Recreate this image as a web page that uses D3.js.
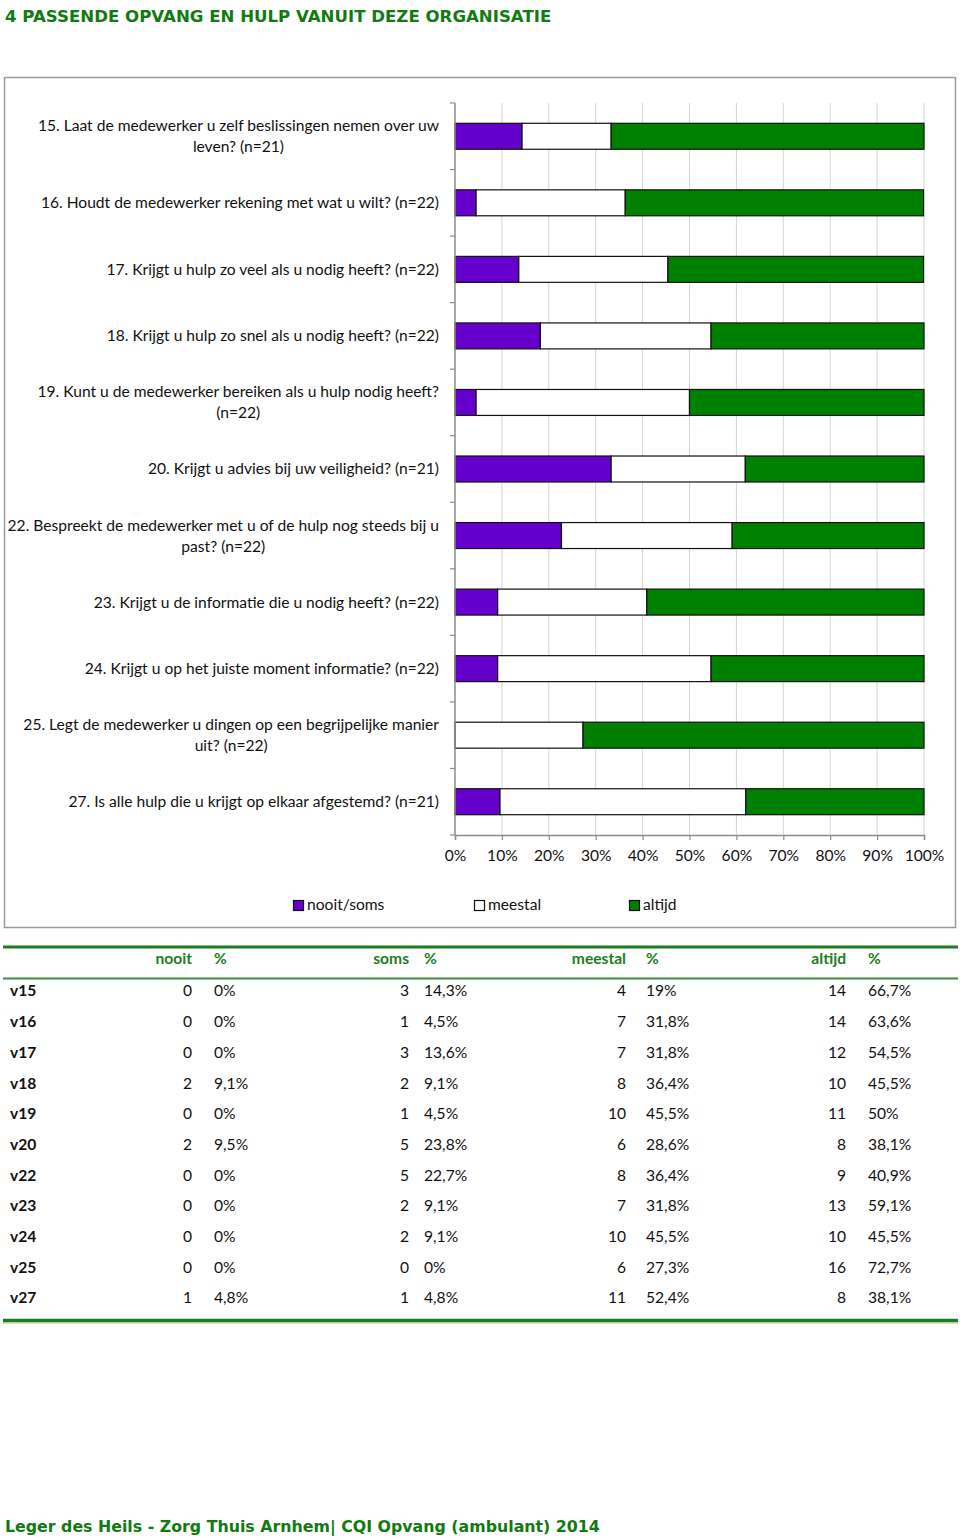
<!DOCTYPE html>
<html>
<head>
<meta charset="utf-8">
<script src="https://cdn.jsdelivr.net/npm/d3@7"></script>
<style>
html,body{margin:0;padding:0;background:#fff;}
svg{display:block;}
</style>
</head>
<body>
<svg id="c" width="960" height="1540"></svg>
<script>
// ---- data ----
const questions = [
  ["15. Laat de medewerker u zelf beslissingen nemen over uw", "leven? (n=21)"],
  ["16. Houdt de medewerker rekening met wat u wilt? (n=22)"],
  ["17. Krijgt u hulp zo veel als u nodig heeft? (n=22)"],
  ["18. Krijgt u hulp zo snel als u nodig heeft? (n=22)"],
  ["19. Kunt u de medewerker bereiken als u hulp nodig heeft?", "(n=22)"],
  ["20. Krijgt u advies bij uw veiligheid? (n=21)"],
  ["22. Bespreekt de medewerker met u of de hulp nog steeds bij u", "past? (n=22)"],
  ["23. Krijgt u de informatie die u nodig heeft? (n=22)"],
  ["24. Krijgt u op het juiste moment informatie? (n=22)"],
  ["25. Legt de medewerker u dingen op een begrijpelijke manier", "uit? (n=22)"],
  ["27. Is alle hulp die u krijgt op elkaar afgestemd? (n=21)"]
];
const rowCodes = ["v15","v16","v17","v18","v19","v20","v22","v23","v24","v25","v27"];
const nooitN   = [0,0,0,2,0,2,0,0,0,0,1];
const nooitPct = [0,0,0,9.1,0,9.5,0,0,0,0,4.8];
const somsN    = [3,1,3,2,1,5,5,2,2,0,1];
const somsPct  = [14.3,4.5,13.6,9.1,4.5,23.8,22.7,9.1,9.1,0,4.8];
const meestalN   = [4,7,7,8,10,6,8,7,10,6,11];
const meestalPct = [19,31.8,31.8,36.4,45.5,28.6,36.4,31.8,45.5,27.3,52.4];
const altijdN    = [14,14,12,10,11,8,9,13,10,16,8];
const altijdPct  = [66.7,63.6,54.5,45.5,50,38.1,40.9,59.1,45.5,72.7,38.1];
const seriesNames = ["nooit/soms","meestal","altijd"];
const seriesColors = ["#6600CC","#FFFFFF","#008000"];
const xTicks = [0,10,20,30,40,50,60,70,80,90,100];
const tableHeaders = ["nooit","%","soms","%","meestal","%","altijd","%"];
const titleText = "4 PASSENDE OPVANG EN HULP VANUIT DEZE ORGANISATIE";
const footerText = "Leger des Heils - Zorg Thuis Arnhem|  CQI Opvang (ambulant) 2014";

// ---- drawing ----
const svg = d3.select("#c");
const GREEN = "#117a11";
const labelFont = "Lato, 'Open Sans', sans-serif";
const FS = 15.6;

svg.append("text").attr("x",5).attr("y",22)
  .attr("font-family","'DejaVu Sans', sans-serif").attr("font-weight","bold")
  .attr("font-size",16.6).attr("fill",GREEN).text(titleText);

// frame
svg.append("rect").attr("x",4.5).attr("y",77.5).attr("width",951).attr("height",850)
  .attr("fill","none").attr("stroke","#9a9a9a").attr("stroke-width",1.5);

const x = d3.scaleLinear().domain([0,100]).range([455,924]);
const y = d3.scaleBand().domain(d3.range(questions.length)).range([103,835])
  .paddingInner(0.61).paddingOuter(0.305);

// gridlines
svg.append("g").selectAll("line").data(xTicks.slice(1)).join("line")
  .attr("x1",d=>x(d)).attr("x2",d=>x(d)).attr("y1",103).attr("y2",835)
  .attr("stroke","#d4d4d4").attr("stroke-width",1);

// stacked data
const stackData = questions.map((q,i)=>({i, v:[nooitPct[i]+somsPct[i], meestalPct[i], altijdPct[i]]}));
const gBars = svg.append("g");
stackData.forEach(d=>{
  let acc = 0;
  d.v.forEach((val,k)=>{
    const x0 = acc; acc += val;
    const x1 = Math.min(acc,100);
    if (val <= 0) return;
    gBars.append("rect")
      .attr("x",x(x0)).attr("y",y(d.i))
      .attr("width",x(x1)-x(x0)).attr("height",y.bandwidth())
      .attr("fill",seriesColors[k]).attr("stroke","#111").attr("stroke-width",1.2);
  });
});

// left axis
const step = y.step();
const yBounds = d3.range(questions.length+1).map(k=>103 + k*step);
svg.append("line").attr("x1",455).attr("x2",455).attr("y1",103).attr("y2",835)
  .attr("stroke","#8c8c8c").attr("stroke-width",1.5);
svg.append("g").selectAll("line").data(yBounds).join("line")
  .attr("x1",450).attr("x2",455).attr("y1",d=>d).attr("y2",d=>d)
  .attr("stroke","#8c8c8c").attr("stroke-width",1.2);

// bottom axis
const xAxis = d3.axisBottom(x).tickValues(xTicks).tickFormat(d=>d+"%").tickSize(5).tickPadding(10);
const gx = svg.append("g").attr("transform","translate(0,835)").call(xAxis);
gx.select(".domain").attr("stroke","#8c8c8c").attr("stroke-width",1.5);
gx.selectAll(".tick line").attr("stroke","#8c8c8c").attr("stroke-width",1.2);
gx.selectAll(".tick text").attr("font-family",labelFont).attr("font-size",FS).attr("fill","#111");

// category labels
const gLab = svg.append("g").attr("font-family",labelFont).attr("font-size",FS).attr("fill","#111");
questions.forEach((lines,i)=>{
  const cy = y(i) + y.bandwidth()/2;
  if (lines.length === 1) {
    gLab.append("text").attr("x",439).attr("y",cy).attr("dy","0.35em")
      .attr("text-anchor","end").text(lines[0]);
  } else {
    const t = gLab.append("text").attr("text-anchor","middle");
    const tmp = gLab.append("text").text(lines[0]);
    const w = tmp.node().getComputedTextLength(); tmp.remove();
    const cx = 439 - w/2;
    lines.forEach((ln,j)=>{
      t.append("tspan").attr("x",cx).attr("y",cy + (j - (lines.length-1)/2)*21).attr("dy","0.35em").text(ln);
    });
  }
});

// legend
const legendX = [293,474,629];
const gLeg = svg.append("g").attr("font-family",labelFont).attr("font-size",FS).attr("fill","#111");
seriesNames.forEach((n,k)=>{
  gLeg.append("rect").attr("x",legendX[k]+0.5).attr("y",900.5).attr("width",10).attr("height",10)
    .attr("fill",seriesColors[k]).attr("stroke","#111").attr("stroke-width",1.2);
  gLeg.append("text").attr("x",legendX[k]+14).attr("y",905).attr("dy","0.35em").text(n);
});

// table
svg.append("line").attr("x1",3).attr("x2",958).attr("y1",947).attr("y2",947)
  .attr("stroke","#1d7d1d").attr("stroke-width",3);
svg.append("line").attr("x1",3).attr("x2",958).attr("y1",978.5).attr("y2",978.5)
  .attr("stroke","#3a8f3a").attr("stroke-width",2);
svg.append("line").attr("x1",3).attr("x2",958).attr("y1",1320.5).attr("y2",1320.5)
  .attr("stroke","#1d7d1d").attr("stroke-width",3.5);
svg.append("line").attr("x1",3).attr("x2",958).attr("y1",1323).attr("y2",1323)
  .attr("stroke","#8fd08f").attr("stroke-width",1);

const colX = [192,214,409,424,626,646,846,868];
const colAnchor = ["end","start","end","start","end","start","end","start"];
const gT = svg.append("g").attr("font-family",labelFont).attr("font-size",FS);
tableHeaders.forEach((h,c)=>{
  gT.append("text").attr("x",colX[c]).attr("y",959).attr("dy","0.35em")
    .attr("text-anchor",colAnchor[c]).attr("font-weight","bold").attr("fill","#1d7d1d").text(h);
});
const fmtPct = v => (v===0 ? "0" : String(v).replace(".",",")) + "%";
const rowY = d3.scaleLinear().domain([0,10]).range([991,1298]);
rowCodes.forEach((code,i)=>{
  const yy = rowY(i);
  gT.append("text").attr("x",10).attr("y",yy).attr("dy","0.35em")
    .attr("font-weight","bold").attr("fill","#111").text(code);
  const vals = [nooitN[i], fmtPct(nooitPct[i]), somsN[i], fmtPct(somsPct[i]),
                meestalN[i], fmtPct(meestalPct[i]), altijdN[i], fmtPct(altijdPct[i])];
  vals.forEach((v,c)=>{
    gT.append("text").attr("x",colX[c]).attr("y",yy).attr("dy","0.35em")
      .attr("text-anchor",colAnchor[c]).attr("fill","#111").text(v);
  });
});

// footer
svg.append("text").attr("x",5).attr("y",1532)
  .attr("font-family","'DejaVu Sans', sans-serif").attr("font-weight","bold")
  .attr("font-size",15.8).attr("fill",GREEN).text(footerText);
</script>
</body>
</html>
